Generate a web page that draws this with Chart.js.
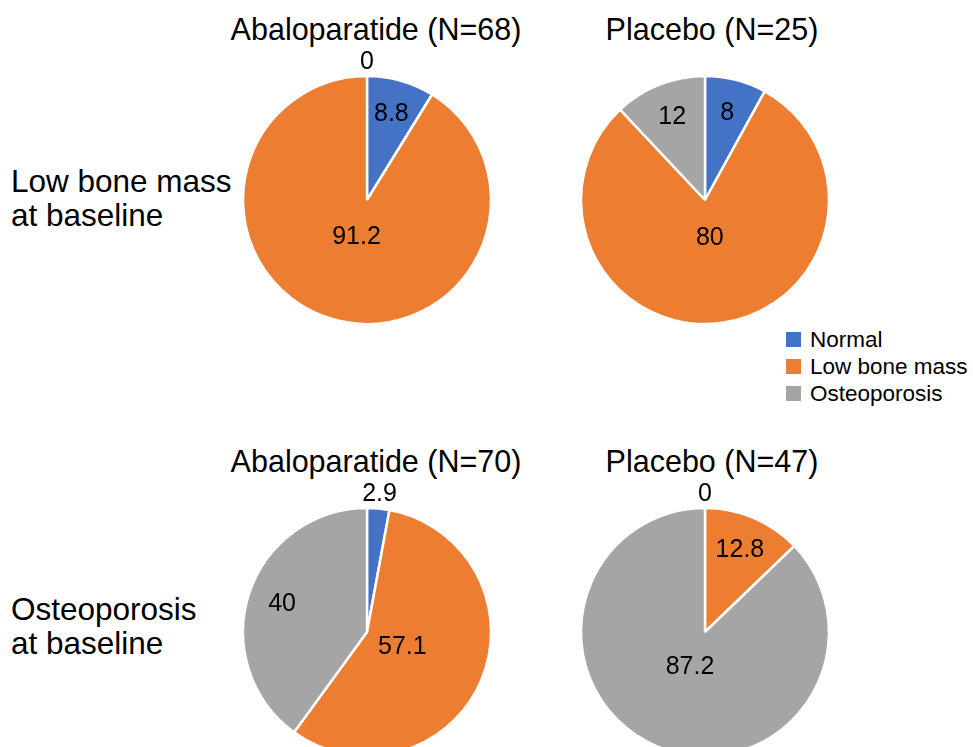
<!DOCTYPE html>
<html>
<head>
<meta charset="utf-8">
<script src="https://cdn.jsdelivr.net/npm/chart.js@4.4.0/dist/chart.umd.min.js"></script>
<style>
  html, body { margin: 0; padding: 0; background: #fff; }
  body { width: 973px; height: 747px; position: relative; overflow: hidden;
         font-family: "Liberation Sans", Arial, sans-serif; color: #000; }
  .pie { position: absolute; width: 300px; height: 300px; }
  .title { position: absolute; font-size: 30.5px; white-space: nowrap; transform: translate(-50%, -50%); }
  .row { position: absolute; left: 11px; font-size: 31.5px; line-height: 34px; }
  #legend { position: absolute; left: 786px; top: 326px; font-size: 22.5px; }
  #legend div { height: 27px; display: flex; align-items: center; white-space: nowrap; }
  #legend span.box { width: 15px; height: 15px; margin-right: 9px; display: inline-block; }
</style>
</head>
<body>
<div class="title" style="left:376px; top:29px">Abaloparatide (N=68)</div>
<div class="title" style="left:712px; top:29px">Placebo (N=25)</div>
<div class="title" style="left:376px; top:461px">Abaloparatide (N=70)</div>
<div class="title" style="left:712px; top:461px">Placebo (N=47)</div>
<div class="row" style="top:164px">Low bone mass<br>at baseline</div>
<div class="row" style="top:592px">Osteoporosis<br>at baseline</div>
<div id="legend"></div>

<canvas id="pie1" class="pie" style="left:217px; top:50px"></canvas>
<canvas id="pie2" class="pie" style="left:555px; top:50px"></canvas>
<canvas id="pie3" class="pie" style="left:217px; top:482px"></canvas>
<canvas id="pie4" class="pie" style="left:555px; top:482px"></canvas>

<script>
const categories = ["Normal", "Low bone mass", "Osteoporosis"];
const colors = ["#4472C4", "#ED7D31", "#A5A5A5"];

// percentages: Normal, Low bone mass, Osteoporosis
const lowAbalo = [8.8, 91.2, 0];
const lowPlacebo = [8, 80, 12];
const osteoAbalo = [2.9, 57.1, 40];
const osteoPlacebo = [0, 12.8, 87.2];

// legend
const legend = document.getElementById("legend");
categories.forEach((c, i) => {
  const row = document.createElement("div");
  row.innerHTML = '<span class="box" style="background:' + colors[i] + '"></span>' + c;
  legend.appendChild(row);
});

// value labels, placed roughly like Excel "best fit"
const sliceLabels = {
  id: "sliceLabels",
  afterDatasetsDraw(chart) {
    const ctx = chart.ctx;
    const values = chart.data.datasets[0].data;
    const total = values.reduce((a, b) => a + b, 0);
    ctx.save();
    ctx.font = "25px 'Liberation Sans', Arial, sans-serif";
    ctx.fillStyle = "#000";
    ctx.textAlign = "center";
    ctx.textBaseline = "middle";
    chart.getDatasetMeta(0).data.forEach((arc, i) => {
      const p = arc.getProps(["x", "y", "startAngle", "endAngle", "outerRadius"], true);
      const mid = (p.startAngle + p.endAngle) / 2;
      const f = values[i] / total;
      let r;
      if (f < 0.04) r = p.outerRadius + 14;
      else if (f < 0.5) r = p.outerRadius * 0.72;
      else r = p.outerRadius * 0.31;
      ctx.fillText(String(values[i]), p.x + Math.cos(mid) * r, p.y + Math.sin(mid) * r);
    });
    ctx.restore();
  },
};

function makePie(id, values) {
  return new Chart(document.getElementById(id), {
    type: "pie",
    data: {
      labels: categories,
      datasets: [
        {
          data: values,
          backgroundColor: colors,
          borderColor: "#fff",
          borderWidth: 2.5,
          hoverOffset: 0,
        },
      ],
    },
    options: {
      responsive: false,
      animation: false,
      events: [],
      radius: 124,
      plugins: {
        legend: { display: false },
        tooltip: { enabled: false },
      },
    },
    plugins: [sliceLabels],
  });
}

makePie("pie1", lowAbalo);
makePie("pie2", lowPlacebo);
makePie("pie3", osteoAbalo);
makePie("pie4", osteoPlacebo);
</script>
</body>
</html>
